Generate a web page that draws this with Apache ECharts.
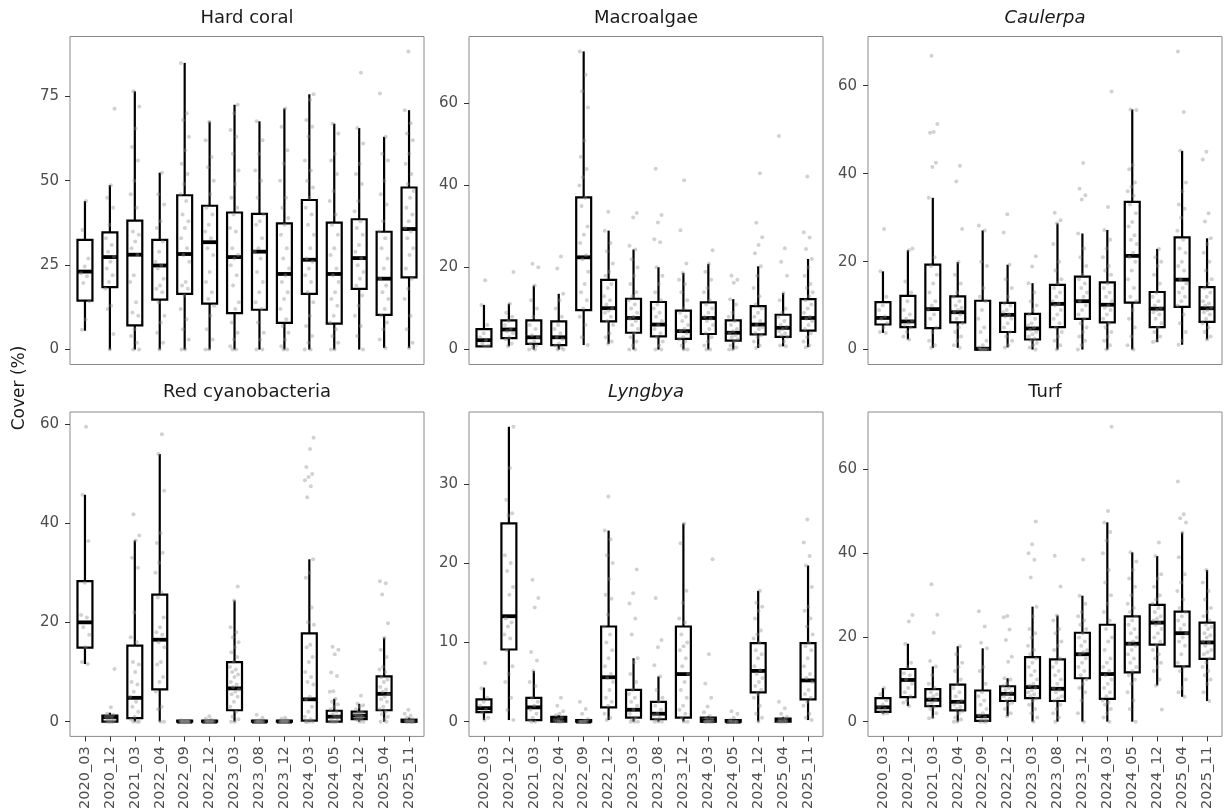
<!DOCTYPE html>
<html><head><meta charset="utf-8">
<script src="https://cdn.jsdelivr.net/npm/echarts@6/dist/echarts.min.js"></script>
<style>html,body{margin:0;padding:0;background:#fff;}#c{width:1226px;height:812px;}</style>
</head><body><div id="c"></div>
<script>
const categories = ['2020_03','2020_12','2021_03','2022_04','2022_09','2022_12','2023_03','2023_08','2023_12','2024_03','2024_05','2024_12','2025_04','2025_11'];

// box stats per category: [lower whisker, Q1, median, Q3, upper whisker]
const hardCoralBox = [[5.6,14.5,23.1,32.5,44.0],[0,18.5,27.4,34.7,48.7],[0,7.2,28.1,38.2,76.5],[0,14.8,24.9,32.5,52.4],[0,16.5,28.3,45.7,84.9],[0,13.6,31.8,42.6,67.5],[0,10.8,27.4,40.6,72.5],[0,11.8,29.0,40.2,67.6],[0,7.9,22.4,37.4,71.4],[0,16.5,26.6,44.3,75.6],[0,7.7,22.4,37.6,66.9],[0,18.0,27.1,38.6,65.6],[0.5,10.3,21.0,34.9,63.0],[0.5,21.4,35.7,48.0,70.9]];
const hardCoralPoints = [
[44,35.4,27,24.6,22.6,21.7,19.7,14.3,8.9,5.9],
[71.3,48.7,45,42,37,33,31,29,27.5,26,24,22,20,18,13,12,4.6,0],
[76.5,72,65.5,60,56,50,46,42,35,34,32,30,28,22,20,14,11,10,6,4,2,0,0],
[52.4,46,43,38,36,32,29,26,25,24,21,19,18,17,14,10,8,5,2,0],
[84.9,70,68,63,59,55,52,49,46,44,40,38,36,33,30,28,26,20,19,18,16,12,9,6,3,0,0],
[67.5,62,57,54,50,46,42,40,37,35,33,30,28,23,20,17,15,13,10,6,3,0,0],
[72.5,70,65,63,58,53,49,45,42,40,36,35,30,28,27,25,22,19,14,12,8,5,3,1,0,0],
[67.6,62,58,53,50,45,40,38,37,33,30,29,27,23,20,17,14,12,8,5,3,0,0],
[71.4,66,59,55,50,45,42,39,37,34,30,27,24,22,20,17,15,12,9,7,5,3,1,0,0],
[75.6,74,68,66,63,56,53,50,48,45,42,40,37,34,30,27,26,24,22,20,17,14,10,7,4,2,0,0],
[66.9,64,58,56,52,47,44,40,37,34,30,28,24,22,20,17,15,13,10,8,6,4,2,0,0],
[82,65.6,61,55,52,49,44,41,38,36,34,31,29,27,25,23,21,19,16,13,10,7,4,0],
[75.8,63,58,56,50,46,43,38,35,33,30,27,24,21,19,17,15,12,10,8,6,3,0.5],
[88.3,70.9,67,64,62,58,55,52,49,47,45,42,40,38,36,35,33,30,28,24,21,18,15,10,6,2,0.5]];
const hardCoralTicks = [0,25,50,75];

const macroalgaeBox = [[0.8,0.8,2.3,5.0,10.9],[0.8,2.8,4.9,7.1,11.2],[0,1.4,3.0,7.1,15.6],[0,1.1,3.0,6.9,13.6],[1.1,9.6,22.5,37.1,72.7],[1.4,6.9,10.1,17.0,29.0],[0,4.1,7.7,12.4,24.4],[0,3.2,6.1,11.6,20.1],[0,2.6,4.5,9.5,18.7],[0,3.8,7.7,11.5,20.9],[0,2.2,4.1,7.1,12.3],[0.4,3.7,6.1,10.6,20.3],[0.8,3.1,5.3,8.5,13.8],[0.6,4.6,7.7,12.3,22.1]];
const macroalgaePoints = [
[16.9,10.9,6,4,3,2.3,1.5,1,0.8],
[18.9,11.2,9,8,7,6,5,4.5,4,3,2.5,1.5,0.8],
[20.9,20.1,15.6,12,10,8,6,5,3.5,3,2,1.5,1,0.5,0,0],
[22.7,19.8,13.6,12,10,8,6,5,4,3,2.5,1.5,1,0.5,0,0],
[72.7,67,63,59,51,47,44,42,40,37,35,30,28,26,23,22,19,16,14,12,10,8,6,3,1.1],
[33.6,29,26,24,21,19,18,16,15,13,12,11,10,9.5,9,8,7,6,4,3,2,1.4],
[33.3,32.2,25.3,24.4,22,20,18,16,14,13,12,11,10,9,8,7.5,7,6,5,4,3,2,1,0,0],
[44.1,32.8,31,26.9,26.2,20.1,18,16,14,12,11,10,9,8,7,6,5,4,3,2,1,0,0],
[41.3,29.1,21,18.7,17,16,14,12,10,9,8,7,6,5,4.5,4,3,2.5,2,1,0,0],
[24.2,20.9,19,17,15,14,12,11,10,9,8,7.5,7,6,5,4,3,2,1,0,0],
[18,17,16.3,12.3,11,9,8,7,6,5,4.5,4,3.5,3,2.5,2,1,0.5,0,0],
[43,30.9,27.4,25.5,23.5,20.3,18,15,13,11,10,9,8,7,6,5.5,5,4,3.5,3,2,1,0.4],
[52.1,24.7,21.4,18,13.8,12,10,9,8,7,6,5.5,5,4.5,4,3.5,3,2,1,0.8],
[42.2,28.6,27.3,24.5,22.1,20,18,16,15,14,13,12,11,10,9,8,7.5,7,6,5,4,3,2,1,0.6]];
const macroalgaeTicks = [0,20,40,60];

const caulerpaBox = [[3.8,5.7,7.2,10.8,17.8],[2.3,5.1,6.4,12.2,22.6],[0.4,4.9,9.2,19.3,34.5],[0.4,6.2,8.5,12.1,19.9],[0,0,0.2,11.1,27.1],[0.5,4.0,7.9,10.6,19.3],[0,2.3,4.8,8.1,15.1],[0,5.1,10.4,14.7,28.7],[0,7.0,11.0,16.6,26.4],[0,6.2,10.2,15.3,27.2],[0,10.7,21.3,33.6,54.6],[1.7,5.1,9.3,13.1,22.9],[1.1,9.7,15.9,25.5,45.2],[2.3,6.3,9.4,14.2,25.3]];
const caulerpaPoints = [
[27.4,17.8,12,10,9,7.5,7,6,5,4,3.8],
[23,22.6,15.5,13,11,9,8,7,6.5,6,5.5,5,4,3,2.3],
[66.8,51.3,49.5,49.3,42.5,41.5,34.5,21,19,17,15,13,11,10,9,8,7,5,4,2,1,0.4],
[41.8,38.2,27.4,19.9,17,15,13,12,11,10,9.5,9,8.5,8,7,6,5,4,3,2,1,0.4],
[28.2,27.1,20,19,14,12,11,9,7,5,4,2,1,0.5,0,0,0,0,0],
[30.8,26.6,19.3,16,14,12,10.5,10,9,8.5,8,7.5,7,6,5,4,3,2,1,0.5],
[21.2,18.9,15.1,13,11,10,9,8,7,6,5.5,5,4.5,4,3.5,3,2.5,2,1.5,1,0.5,0],
[31.1,29.4,28.7,24,20,18,16,15,14,13,12,11,10.5,10,9,8,7,6,5,4,3,2,1,0],
[42.4,36.6,35.1,34.1,26.4,23,21,19,17,16,15,14,13,12,11,10,9,8,7,6,5,4,3,2,1,0],
[58.7,32.4,27.2,25,23,21,19,18,17,15,14,13,12,11,10,9.5,9,8,7,6,5,4,3,2,1,0],
[54.6,54.5,42,41,38,37,36,35,33,31,29,28,26,25,24,22,21,20,18,16,14,12,11,9,7,5,3,1,0],
[22.9,21,20,19,17,15,13,12,11,10,9.5,9,8.5,8,7,6,5,4,3,2,1.7],
[67.8,54,45.2,38,36,33,32,30,27,25,23,22,20,19,18,16,15,14,13,12,11,10,8,6,4,2,1.1],
[45,43.2,31,29.1,25.3,24,22,20,18,16,15,14,13,12,11,10.5,10,9.5,9,8.5,8,7,6,5,4,3,2.3]];
const caulerpaTicks = [0,20,40,60];

const redCyanoBox = [[11.6,14.9,20.0,28.3,45.7],[0,0,0.9,1.2,1.8],[0,0.7,4.8,15.3,36.5],[0,6.5,16.5,25.6,53.9],[0,0,0,0.2,0.3],[0,0,0,0.2,0.4],[0,2.3,6.7,12.0,24.4],[0,0,0,0.2,0.3],[0,0,0,0.2,0.3],[0,0.2,4.5,17.8,32.7],[0,0,1.0,2.2,4.6],[0,0.5,1.2,2.0,3.6],[0,2.3,5.6,9.1,16.9],[0,0,0.1,0.4,0.8]];
const redCyanoPoints = [
[59.4,45.7,36.4,28,21.5,21,19,17.5,15,12,11.6],
[10.6,2.9,1.6,1.4,1.2,1,0.8,0.5,0.3,0,0,0,0],
[41.8,37.5,36.5,33,31,22,17,16,12,11.5,10,8,7.5,6,5,4,3,2,1,0.5,0,0,0],
[57.9,53.9,46.5,38,36,34,32,30,26,25,21,19,18,17.5,16,15,12,11.5,9,8,6,3,2.5,0,0],
[0.3,0.2,0.1,0,0,0,0,0,0,0,0,0],
[1.1,0.6,0.4,0.2,0.1,0,0,0,0,0,0,0],
[27.2,24.4,19,18,17,16,15,14,13,12,11,10.5,10,9.5,9,8,7.5,7,6.5,6,5.5,5,4,3,2,1,0.5,0,0],
[1.4,0.8,0.3,0,0,0,0,0,0,0,0],
[0.8,0.6,0.3,0.2,0,0,0,0,0,0,0,0],
[57.2,54.9,51.3,49.9,49.3,48.6,47.4,45.2,32.7,30,29,23,20,19.5,15.5,15,13,12,10,9,8,7.5,5,4.5,3,2,1,0.5,0,0,0,0],
[15.1,14.5,13.6,9.9,9.2,6.1,6,4.6,4,3.5,3,2.5,2,1.5,1,1,0.5,0.2,0,0,0,0],
[5.2,3.6,3.3,3,2.5,2,1.8,1.5,1.3,1.2,1,0.8,0.6,0.5,0.3,0,0],
[28.3,27.9,25.6,19.8,16.9,14.5,13,11,10.5,10,9,8.5,8,7,6.5,6,5.5,5,4.5,4,3,2.5,2,1.5,1,0.5,0,0],
[2.4,1.6,1.2,0.8,0.5,0.3,0.2,0,0,0,0,0,0]];
const redCyanoTicks = [0,20,40,60];

const lyngbyaBox = [[0.2,1.2,1.7,2.8,4.3],[0.2,9.1,13.3,25.0,37.2],[0,0.2,1.8,3.0,6.4],[0,0,0.3,0.6,0.8],[0,0,0,0.2,0.3],[0.2,1.8,5.6,12.0,24.1],[0,0.5,1.5,4.0,8.0],[0,0.3,1.0,2.5,5.7],[0,0.5,6.0,12.0,25.0],[0,0,0.1,0.5,0.7],[0,0,0,0.2,0.3],[0,3.7,6.4,9.9,16.5],[0,0,0.2,0.4,0.6],[0.2,2.8,5.2,9.9,19.7]];
const lyngbyaPoints = [
[7.4,4.2,3,2.5,2,1.5,1.2,0.5,0.2],
[37.2,32,28,26.3,26,21,20,19,17,16,13,12.5,12,11,10.5,9,7,6,5,3,1.5,0.2],
[17.9,15.6,14.4,8.8,7.7,6.4,5,4.5,3,2.5,2,1.5,1,0.5,0.2,0,0],
[3,2,1.3,1,0.8,0.5,0.3,0.2,0,0,0,0],
[2.5,1.6,1,0.3,0.1,0,0,0,0,0,0],
[28.4,24.1,23,21,20,18,16,15.5,13.5,12,11,10,9,8,7,6,5.5,5,4,3,2.5,2,1,0.5,0.2],
[19.2,16.2,14.9,13,11,8,7.5,6,5,4,3.5,3,2.5,2,1.5,1,0.5,0.3,0,0,0],
[15.6,10.3,9.4,7.1,5.7,4,3,2.5,2,1.5,1,0.8,0.5,0.3,0,0,0],
[25,22.5,16.5,15,13,12.5,11,10,9.5,9,8,7,6,5,4,3,2,1.5,1,0.5,0,0],
[20.5,8.5,4.8,3,1.9,1.2,0.7,0.5,0.3,0.1,0,0,0,0,0,0],
[1.3,1,0.5,0.2,0,0,0,0,0,0],
[16.5,15,14.5,14,13,11.5,11,10.5,10,9,8.5,8,7,6.5,6,5.5,5,4.5,4,3.5,3,2,1,0.5,0],
[2.5,1.7,1,0.6,0.4,0.3,0.2,0,0,0,0,0],
[25.5,22.6,20.9,19.7,17,14.5,14,13,12,11,10,9.5,9,8,7,6,5.5,5,4,3.5,3,2.5,2,1,0.5,0.2]];
const lyngbyaTicks = [0,10,20,30];

const turfBox = [[1.9,2.3,3.4,5.6,8.0],[3.7,5.8,9.9,12.5,18.5],[0.8,3.7,5.2,7.7,13.1],[0,2.7,4.7,8.8,17.9],[0,0.2,1.3,7.4,17.4],[1.3,4.9,6.6,8.4,10.3],[0,5.6,8.2,15.3,27.3],[0,4.9,7.8,14.8,25.2],[0,10.3,16.0,21.1,29.9],[0,5.4,11.3,23.0,47.3],[0,11.7,18.5,25.0,40.2],[8.6,18.3,23.5,27.7,39.3],[5.9,13.1,21.0,26.1,44.9],[4.9,14.9,18.8,23.5,36.0]];
const turfPoints = [
[8,6.5,5,4,3.5,3,2.5,2,1.9],
[25.3,23.8,18.5,14,13,11.5,11,10,9,8,7,6,5,4.5,3.7],
[32.6,25.4,21.1,14.4,13.1,11,9,8,7,6.5,6,5.5,5,4.5,4,3.5,3,2,1,0.8],
[17.9,16,14,13,12,10,9,8,7,6,5,4.5,4,3.5,3,2.5,2,1,0.5,0,0],
[26.2,22.6,18.7,17.4,13,12,9,7,6,5,4,3,2,1.5,1,0.5,0.2,0,0,0],
[25.1,24.8,21.9,19.4,15.4,14.2,10.3,10,9,8.5,8,7.5,7,6.5,6,5.5,5,4.5,4,3,2,1.3],
[47.5,42.1,40,38.4,34.2,27.3,25,22,21,20,18,17,16,15,14,13,12,11,10,9,8.5,8,7.5,7,6.5,6,5.5,5,4,3,2,1,0],
[39.4,32.1,25.2,24,22,21,19,18,17,15,14,13,12,11,10,9,8,7.5,7,6,5.5,5,4,3,2,1,0],
[38.5,29.9,28,26,25,24,23,22,21,20,19,18,17,16.5,16,15,14,13,12,11,10,9,8,7,5,2,0],
[70,50,47.3,45,43,40,36,33,30,28,26,24,22,20,19,17,15,14,13,12,11,10,9,8,7,6,5,4.5,4,3,2,1,0],
[40.2,38,36,34,32,30,28,27,26,25,24,23,22,21,20,19,18.5,18,17,16,15,14,13,12,11,10,9,7,5,3,0],
[42.5,39.3,35,34,32,30,29,28,27,26,25,24.5,24,23.5,23,22,21,20,19,18,17,16,15,14,13,12,10,8.6,2.9],
[57,49.2,48.3,47.3,44.9,39,35,33,31,29,27,26,25,24,23,22,21,20,19,18,16,14,13,12,10,8,7,5.9],
[36,33,31,29,27,26,25,24,23,22.5,22,21,20.5,20,19,18.8,18,17,16.5,16,15,14,13,12,11,10,9,7,4.9]];
const turfTicks = [0,20,40,60];

const panels = [
  {title:'Hard coral', italic:false, box:hardCoralBox, pts:hardCoralPoints, ticks:hardCoralTicks},
  {title:'Macroalgae', italic:false, box:macroalgaeBox, pts:macroalgaePoints, ticks:macroalgaeTicks},
  {title:'Caulerpa', italic:true, box:caulerpaBox, pts:caulerpaPoints, ticks:caulerpaTicks},
  {title:'Red cyanobacteria', italic:false, box:redCyanoBox, pts:redCyanoPoints, ticks:redCyanoTicks},
  {title:'Lyngbya', italic:true, box:lyngbyaBox, pts:lyngbyaPoints, ticks:lyngbyaTicks},
  {title:'Turf', italic:false, box:turfBox, pts:turfPoints, ticks:turfTicks}
];

const FONT = '"DejaVu Sans", sans-serif';
const colLeft = [70, 469, 868], rowTop = [36.5, 412], W = 354, H = 328;
const HW = 0.3;

function renderBox(params, api) {
  const x = api.value(0);
  const mn = api.value(1), q1 = api.value(2), md = api.value(3), q3 = api.value(4), mx = api.value(5);
  const tl = api.coord([x - HW, q3]), br = api.coord([x + HW, q1]);
  const top = api.coord([x, mx]), bot = api.coord([x, mn]);
  const c3 = api.coord([x, q3]), c1 = api.coord([x, q1]);
  const mL = api.coord([x - HW, md]), mR = api.coord([x + HW, md]);
  const st = {stroke:'#000', lineWidth:2.2, fill:null};
  return {type:'group', children:[
    {type:'line', shape:{x1:top[0], y1:top[1], x2:c3[0], y2:c3[1]}, style:st},
    {type:'line', shape:{x1:c1[0], y1:c1[1], x2:bot[0], y2:bot[1]}, style:st},
    {type:'rect', shape:{x:tl[0], y:tl[1], width:br[0]-tl[0], height:br[1]-tl[1]}, style:{stroke:'#000', lineWidth:2.2, fill:'rgba(0,0,0,0)'}},
    {type:'line', shape:{x1:mL[0], y1:mL[1], x2:mR[0], y2:mR[1]}, style:{stroke:'#000', lineWidth:3.8}}
  ]};
}

const grids = [], xAxes = [], yAxes = [], series = [], graphics = [];
const idx = categories.map((_, k) => k);
panels.forEach((p, i) => {
  const r = Math.floor(i / 3), c = i % 3;
  grids.push({left:colLeft[c], top:rowTop[r], width:W, height:H, show:true, borderColor:'#8a8a8a', borderWidth:1, backgroundColor:'#fff', containLabel:false});
  xAxes.push({gridIndex:i, type:'value', min:-0.6, max:categories.length - 0.4,
    axisLine:{show:false, onZero:false}, splitLine:{show:false},
    axisTick:{show:r === 1, customValues:idx, length:5, lineStyle:{color:'#333', width:1}},
    axisLabel:{show:r === 1, customValues:idx, rotate:90, margin:10, formatter:v => categories[Math.round(v)],
      fontFamily:FONT, fontSize:14.5, color:'#4d4d4d'}});
  let dmax = 0;
  p.box.forEach(b => { dmax = Math.max(dmax, ...b); });
  p.pts.forEach(a => { dmax = Math.max(dmax, ...a); });
  yAxes.push({gridIndex:i, type:'value', min:-0.05 * dmax, max:1.05 * dmax,
    axisLine:{show:false, onZero:false}, splitLine:{show:false},
    axisTick:{show:true, customValues:p.ticks, length:5, lineStyle:{color:'#333', width:1}},
    axisLabel:{customValues:p.ticks, margin:11, fontFamily:FONT, fontSize:15, color:'#4d4d4d'}});
  series.push({type:'custom', xAxisIndex:i, yAxisIndex:i, renderItem:renderBox, silent:true, z:2,
    data:p.box.map((b, k) => [k].concat(b)), encode:{x:0, y:[1,2,3,4,5]}});
  const sd = [];
  p.pts.forEach((arr, k) => arr.forEach((v, j) => {
    const off = ((((j + 1) * 0.6180339887 + k * 0.37) % 1) - 0.5) * 0.38;
    sd.push([k + off, v]);
  }));
  series.push({type:'scatter', xAxisIndex:i, yAxisIndex:i, data:sd, symbolSize:4, silent:true, z:3,
    itemStyle:{color:'rgba(140,140,140,0.5)'}});
  graphics.push({type:'text', x:colLeft[c] + W / 2, y:r === 0 ? 18 : 392, silent:true,
    style:{text:p.title, font:(p.italic ? 'italic ' : '') + '18px "DejaVu Sans"', fill:'#1a1a1a',
      textAlign:'center', textVerticalAlign:'middle', align:'center', verticalAlign:'middle'}});
});
graphics.push({type:'text', x:20, y:388, rotation:Math.PI / 2, silent:true,
  style:{text:'Cover (%)', font:'17px "DejaVu Sans"', fill:'#1a1a1a',
    textAlign:'center', textVerticalAlign:'middle', align:'center', verticalAlign:'middle'}});

const chart = echarts.init(document.getElementById('c'), null, {renderer:'canvas'});
chart.setOption({animation:false, backgroundColor:'#fff', grid:grids, xAxis:xAxes, yAxis:yAxes, series:series, graphic:graphics});
</script>
</body></html>
